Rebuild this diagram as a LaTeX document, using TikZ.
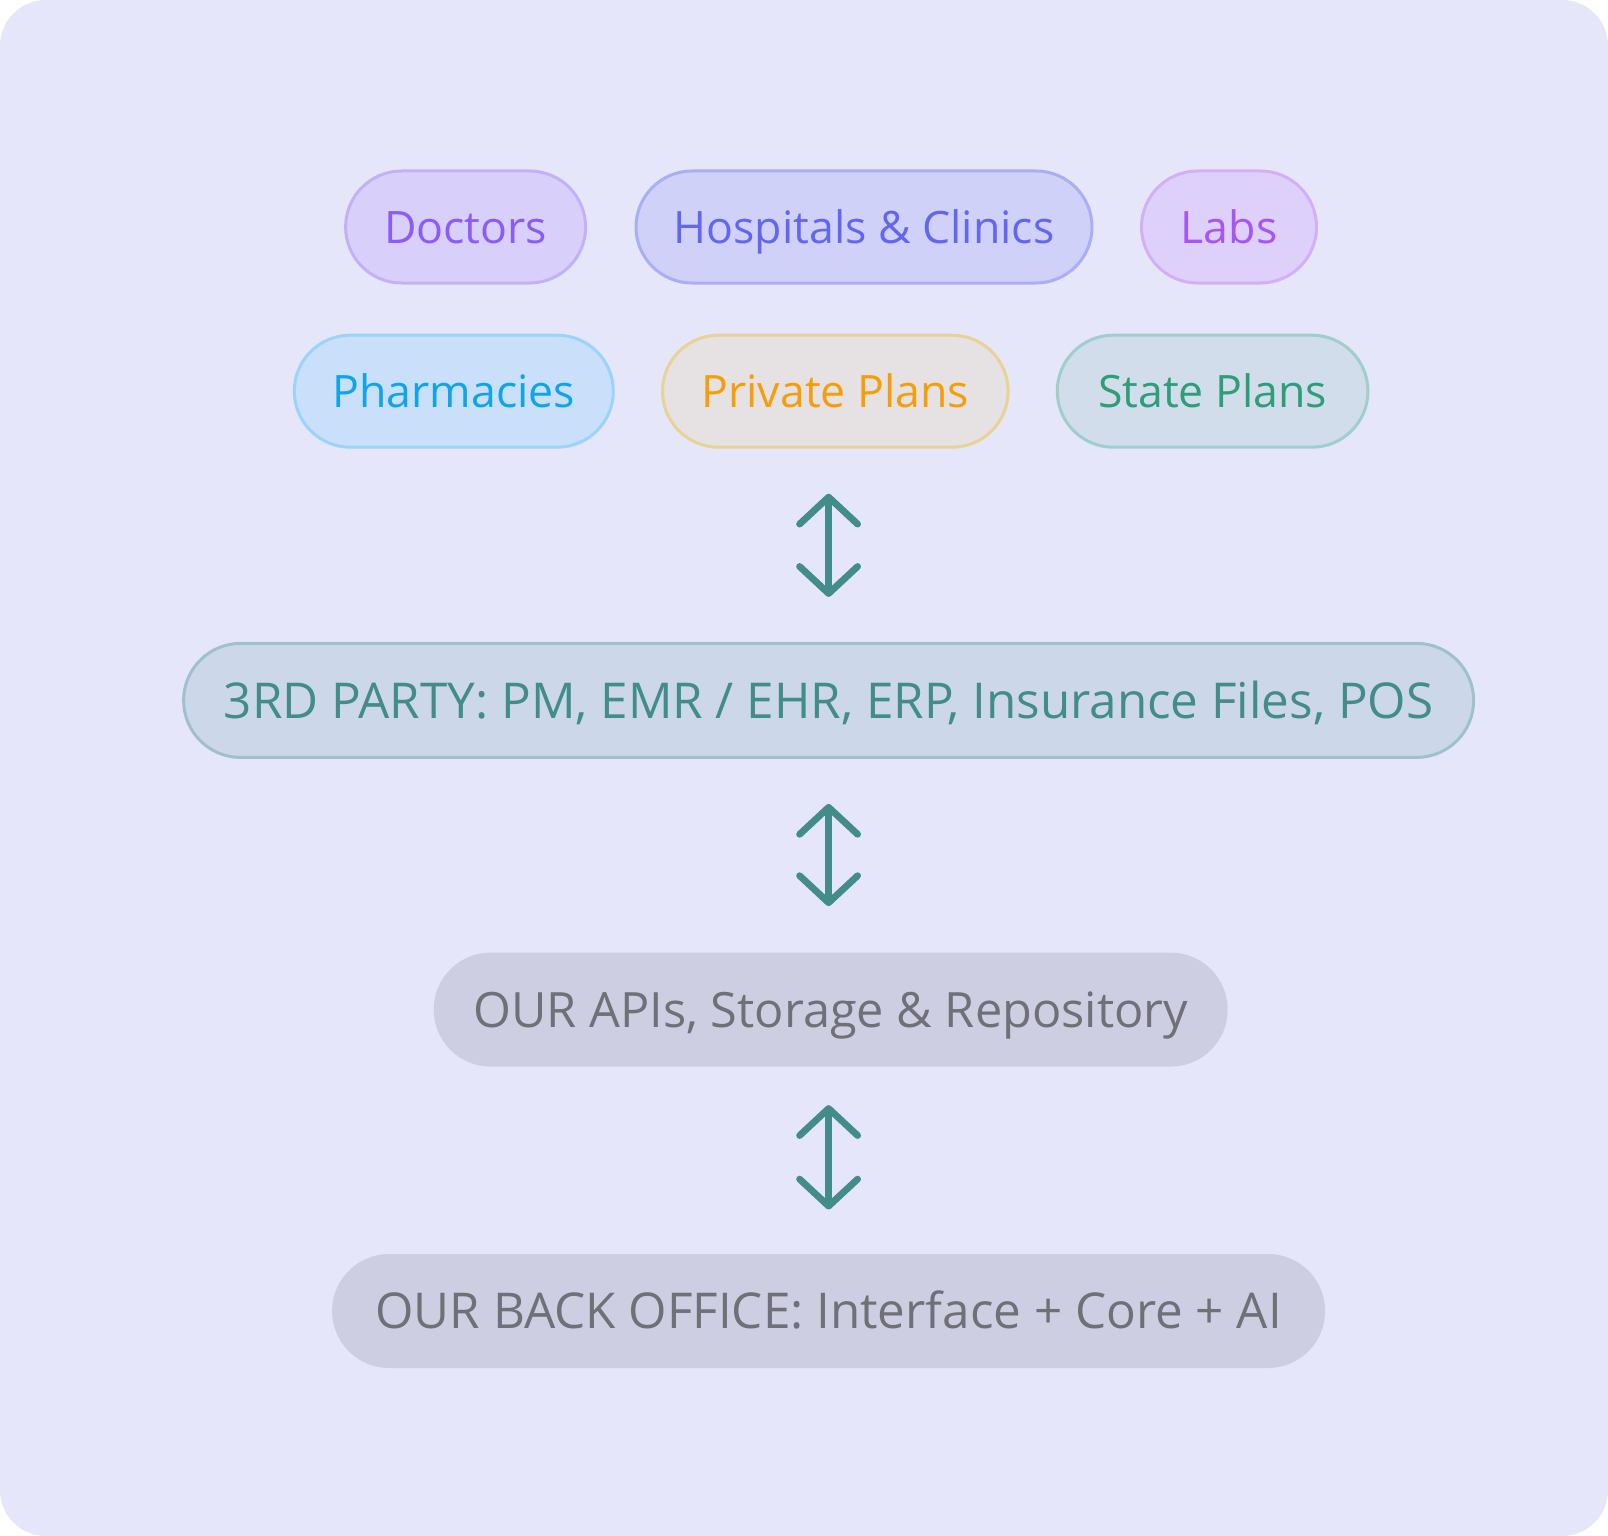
\documentclass[tikz,border=0pt]{standalone}
\usepackage{fontspec}
\setmainfont{Open Sans}
\usetikzlibrary{arrows.meta}
\definecolor{bgpage}{HTML}{E5E6FA}
\definecolor{docfill}{HTML}{D8D0FA}\definecolor{docline}{HTML}{C4B0F8}\definecolor{doctext}{HTML}{8B5CF6}
\definecolor{hospfill}{HTML}{D0D1F8}\definecolor{hospline}{HTML}{A9AEF5}\definecolor{hosptext}{HTML}{6366F1}
\definecolor{labfill}{HTML}{DDD0FA}\definecolor{labline}{HTML}{D4AEF8}\definecolor{labtext}{HTML}{A855F7}
\definecolor{pharmfill}{HTML}{CADFFA}\definecolor{pharmline}{HTML}{9AD4F8}\definecolor{pharmtext}{HTML}{0EA5E9}
\definecolor{privfill}{HTML}{E6E1E2}\definecolor{privline}{HTML}{E8D296}\definecolor{privtext}{HTML}{F59E0B}
\definecolor{statefill}{HTML}{D1DDEB}\definecolor{stateline}{HTML}{9FCFCB}\definecolor{statetext}{HTML}{2E9D78}
\definecolor{partyfill}{HTML}{CCD8EA}\definecolor{partyline}{HTML}{9FC1CE}\definecolor{teal}{HTML}{428C8C}
\definecolor{ourfill}{HTML}{CECEE2}\definecolor{ourtext}{HTML}{707078}
\tikzset{
	pill/.style={rounded corners=0.56cm, minimum height=1.12cm, line width=0.03cm, inner sep=0pt, text height=0.32cm, text depth=0pt, font=\fontsize{12.7}{15}\selectfont},
	bigpill/.style={pill, rounded corners=0.57cm, minimum height=1.14cm, text height=0.353cm, font=\fontsize{14.05}{17}\selectfont},
	link/.style={line width=0.068cm, color=teal, {Straight Barb[length=0.27cm,width=0.58cm,round]}-{Straight Barb[length=0.27cm,width=0.58cm,round]}, shorten <=0.45cm, shorten >=0.45cm}
}
\begin{document}
\begin{tikzpicture}
		%%%%% BACKGROUND %%%%%
		\fill[bgpage, rounded corners=0.46cm] (0, 0) rectangle (16.08, -15.36);
		\useasboundingbox (0, 0) rectangle (16.08, -15.36);
		
		%%%%% PARTNERS %%%%%
		\node[pill, fill=docfill, draw=docline, text=doctext, minimum width=2.40cm] (doctors) at (4.656, -2.27) {Doctors};
		\node[pill, fill=hospfill, draw=hospline, text=hosptext, minimum width=4.56cm] (hospitals) at (8.64, -2.27) {Hospitals \& Clinics};
		\node[pill, fill=labfill, draw=labline, text=labtext, minimum width=1.75cm] (labs) at (12.29, -2.27) {Labs};
		
		\node[pill, fill=pharmfill, draw=pharmline, text=pharmtext, minimum width=3.19cm] (pharmacies) at (4.538, -3.912) {Pharmacies};
		\node[pill, fill=privfill, draw=privline, text=privtext, minimum width=3.456cm] (private) at (8.353, -3.912) {Private Plans};
		\node[pill, fill=statefill, draw=stateline, text=statetext, minimum width=3.107cm] (state) at (12.126, -3.912) {State Plans};
		
		%%%%% LAYERS %%%%%
		\node[bigpill, fill=partyfill, draw=partyline, text=teal, minimum width=12.9cm] (thirdparty) at (8.286, -7.004) {3RD PARTY: PM, EMR / EHR, ERP, Insurance Files, POS};
		\node[bigpill, fill=ourfill, text=ourtext, minimum width=7.94cm, font=\fontsize{13.85}{17}\selectfont] (apis) at (8.307, -10.096) {OUR APIs, Storage \& Repository};
		\node[bigpill, fill=ourfill, text=ourtext, minimum width=9.93cm] (backoffice) at (8.286, -13.11) {OUR BACK OFFICE: Interface + Core + AI};
		
		%%%%% ARROWS %%%%%
		\draw[link] (private.south -| thirdparty.north) -- (thirdparty.north);
		\draw[link] (thirdparty.south) -- (thirdparty.south |- apis.north);
		\draw[link, shorten <=0.37cm, shorten >=0.43cm] (thirdparty.south |- apis.south) -- (backoffice.north);
		
		%%%%% END %%%%%
	\end{tikzpicture}
\end{document}
